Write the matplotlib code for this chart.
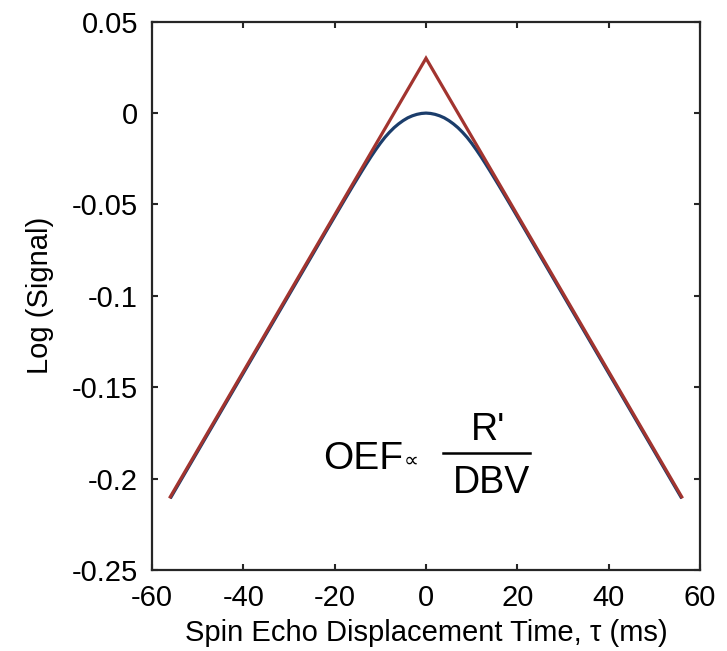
import numpy as np
import matplotlib
matplotlib.use("Agg")
import matplotlib.pyplot as plt

plt.rcParams['font.family'] = ['Liberation Sans', 'DejaVu Sans']

# Data
tau_red = [-56, 0, 56]
logS_red = [-0.21, 0.03, -0.21]

tau_pos = [0, 1, 2, 3, 4, 5, 6, 7, 8, 9, 10, 11, 12, 13, 14, 15, 16, 18, 20,
           22, 25, 30, 35, 40, 45, 50, 56]
logS_pos = [0.0, -0.0002, -0.0007, -0.0015, -0.0026, -0.0041, -0.0059, -0.0080,
            -0.0105, -0.0133, -0.0165, -0.0200, -0.0237, -0.0276, -0.0316,
            -0.0357, -0.0398, -0.0482, -0.0567, -0.0652, -0.0781, -0.0995,
            -0.1209, -0.1423, -0.1637, -0.1851, -0.2108]

tau_blue = [-t for t in tau_pos[:0:-1]] + tau_pos
logS_blue = logS_pos[:0:-1] + logS_pos

xticks = [-60, -40, -20, 0, 20, 40, 60]
yticks = [-0.25, -0.2, -0.15, -0.1, -0.05, 0, 0.05]
yticklabels = ['-0.25', '-0.2', '-0.15', '-0.1', '-0.05', '0', '0.05']
xticklabels = ['-60', '-40', '-20', '0', '20', '40', '60']

fig = plt.figure(figsize=(7.27, 6.51), dpi=100)
ax = fig.add_axes([152/727, 1-570/651, 548/727, (570-21.7)/651])

ax.plot(tau_blue, logS_blue, color='#1B3D6B', lw=2.3, solid_capstyle='butt')
ax.plot(tau_red, logS_red, color='#A2342F', lw=2.3, solid_joinstyle='miter')

ax.set_xlim(-60, 60)
ax.set_ylim(-0.25, 0.05)
ax.set_xticks(xticks)
ax.set_xticklabels(xticklabels)
ax.set_yticks(yticks)
ax.set_yticklabels(yticklabels)
ax.tick_params(direction='in', length=4, width=1.5, color='#262626',
               labelsize=21, top=True, right=True)
ax.tick_params(axis='y', pad=10)
ax.tick_params(axis='x', pad=10)
for s in ax.spines.values():
    s.set_linewidth(1.6)
    s.set_color('#262626')

ax.set_xlabel('Spin Echo Displacement Time, τ (ms)', fontsize=21, labelpad=5)
ax.set_ylabel('Log (Signal)', fontsize=21, labelpad=13)

# Formula annotation
ax.text(-22.6, -0.195, 'OEF', fontsize=28, ha='left', va='baseline')
ax.text(-3.3, -0.190, '∝', fontsize=15, ha='center', va='center',
        family=['DejaVu Sans'])
ax.plot([3.7, 22.8], [-0.1862, -0.1862], color='black', lw=1.8)
ax.text(13.6, -0.1786, "R'", fontsize=27, ha='center', va='baseline')
ax.text(14.4, -0.208, 'DBV', fontsize=27, ha='center', va='baseline')

fig.savefig('out.png', dpi=100)
